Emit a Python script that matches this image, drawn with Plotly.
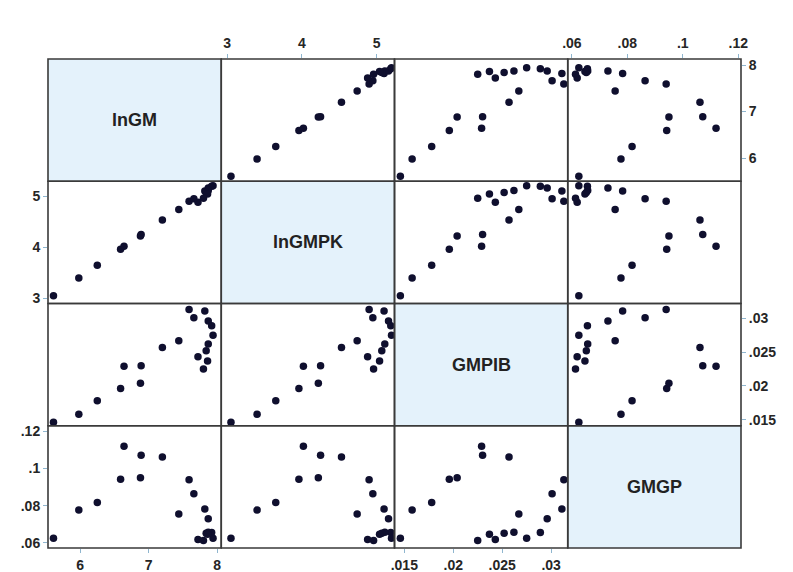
import plotly.graph_objects as go
from plotly.subplots import make_subplots

# ---- data (one entry per observation) ----
var_names = ["lnGM", "lnGMPK", "GMPIB", "GMGP"]
lnGM = [5.61, 5.98, 6.25, 6.59, 6.64, 6.88, 6.89, 7.20, 7.44, 7.59,
        7.66, 7.82, 7.87, 7.92, 7.94, 7.87, 7.84, 7.72, 7.86, 7.80]
lnGMPK = [3.05, 3.40, 3.65, 3.96, 4.02, 4.22, 4.25, 4.53, 4.74, 4.90,
          4.95, 5.10, 5.16, 5.19, 5.20, 5.11, 5.07, 4.88, 5.04, 4.96]
GMPIB = [0.0146, 0.0158, 0.0178, 0.0196, 0.0229, 0.0204, 0.0230, 0.0257, 0.0267, 0.0313,
         0.0301, 0.0311, 0.0296, 0.0289, 0.0275, 0.0262, 0.0252, 0.0243, 0.0237, 0.0225]
GMGP = [0.0625, 0.0777, 0.0817, 0.0942, 0.1120, 0.0950, 0.1072, 0.1062, 0.0756, 0.0940,
        0.0864, 0.0783, 0.0730, 0.0656, 0.0625, 0.0657, 0.0652, 0.0619, 0.0647, 0.0613]
data = [lnGM, lnGMPK, GMPIB, GMGP]

x_ranges = [[5.53, 8.06], [2.92, 5.24], [0.0140, 0.0317], [0.0585, 0.121]]
y_ranges = [[5.50, 8.13], [2.90, 5.29], [0.0141, 0.0322], [0.0573, 0.123]]
tick_vals = [[6, 7, 8], [3, 4, 5], [0.015, 0.02, 0.025, 0.03], [0.06, 0.08, 0.1, 0.12]]
tick_text = [["6", "7", "8"], ["3", "4", "5"], [".015", ".02", ".025", ".03"], [".06", ".08", ".1", ".12"]]

n = 4
fig = make_subplots(rows=n, cols=n, horizontal_spacing=0, vertical_spacing=0)

marker_color = "#0f0f2e"
tick_font = dict(family="Liberation Sans, Arial, sans-serif", size=14, color="#262626",
                 weight="bold")

for r in range(n):
    for c in range(n):
        if r != c:
            fig.add_trace(go.Scatter(x=data[c], y=data[r], mode="markers",
                                     marker=dict(size=7.5, color=marker_color),
                                     showlegend=False, hoverinfo="skip"),
                          row=r + 1, col=c + 1)
        # x axis
        x_top = c in (1, 3)
        show_x = (x_top and r == 0) or ((not x_top) and r == n - 1)
        fig.update_xaxes(range=x_ranges[c], showgrid=False, zeroline=False,
                         showline=False, side="top" if x_top else "bottom",
                         tickvals=tick_vals[c], ticktext=tick_text[c],
                         showticklabels=show_x, ticks="outside" if show_x else "",
                         ticklen=4, tickcolor="#8fb6cf", tickfont=tick_font,
                         automargin=False,
                         visible=(r != c) or show_x,
                         row=r + 1, col=c + 1)
        # y axis
        y_right = r in (0, 2)
        show_y = (y_right and c == n - 1) or ((not y_right) and c == 0)
        fig.update_yaxes(range=y_ranges[r], showgrid=False, zeroline=False,
                         showline=False, side="right" if y_right else "left",
                         tickvals=tick_vals[r], ticktext=tick_text[r],
                         showticklabels=show_y, ticks="outside" if show_y else "",
                         ticklen=4, tickcolor="#8fb6cf", tickfont=tick_font,
                         automargin=False,
                         visible=(r != c) or show_y,
                         row=r + 1, col=c + 1)

shapes = []
annotations = []
for r in range(n):
    for c in range(n):
        x0, x1 = c / n, (c + 1) / n
        y0, y1 = 1 - (r + 1) / n, 1 - r / n
        if r == c:
            shapes.append(dict(type="rect", xref="paper", yref="paper",
                               x0=x0, x1=x1, y0=y0, y1=y1,
                               fillcolor="#e4f2fb", line=dict(width=0), layer="below"))
            annotations.append(dict(x=(x0 + x1) / 2, y=(y0 + y1) / 2, xref="paper", yref="paper",
                                    xanchor="center", yanchor="middle",
                                    text=var_names[r], showarrow=False,
                                    font=dict(family="Liberation Sans, Arial, sans-serif",
                                              size=18, color="#222222", weight="bold")))
        shapes.append(dict(type="rect", xref="paper", yref="paper",
                           x0=x0, x1=x1, y0=y0, y1=y1,
                           line=dict(color="#3a3a3a", width=1.6), fillcolor="rgba(0,0,0,0)",
                           layer="above"))

# the page body adds an 8px offset; size the figure so the grid lands where the reference has it
fig.update_layout(width=785, height=564,
                  margin=dict(l=40, r=52, t=51, b=24),
                  paper_bgcolor="white", plot_bgcolor="white",
                  shapes=shapes, annotations=annotations, showlegend=False)

fig.write_html("out.html")
